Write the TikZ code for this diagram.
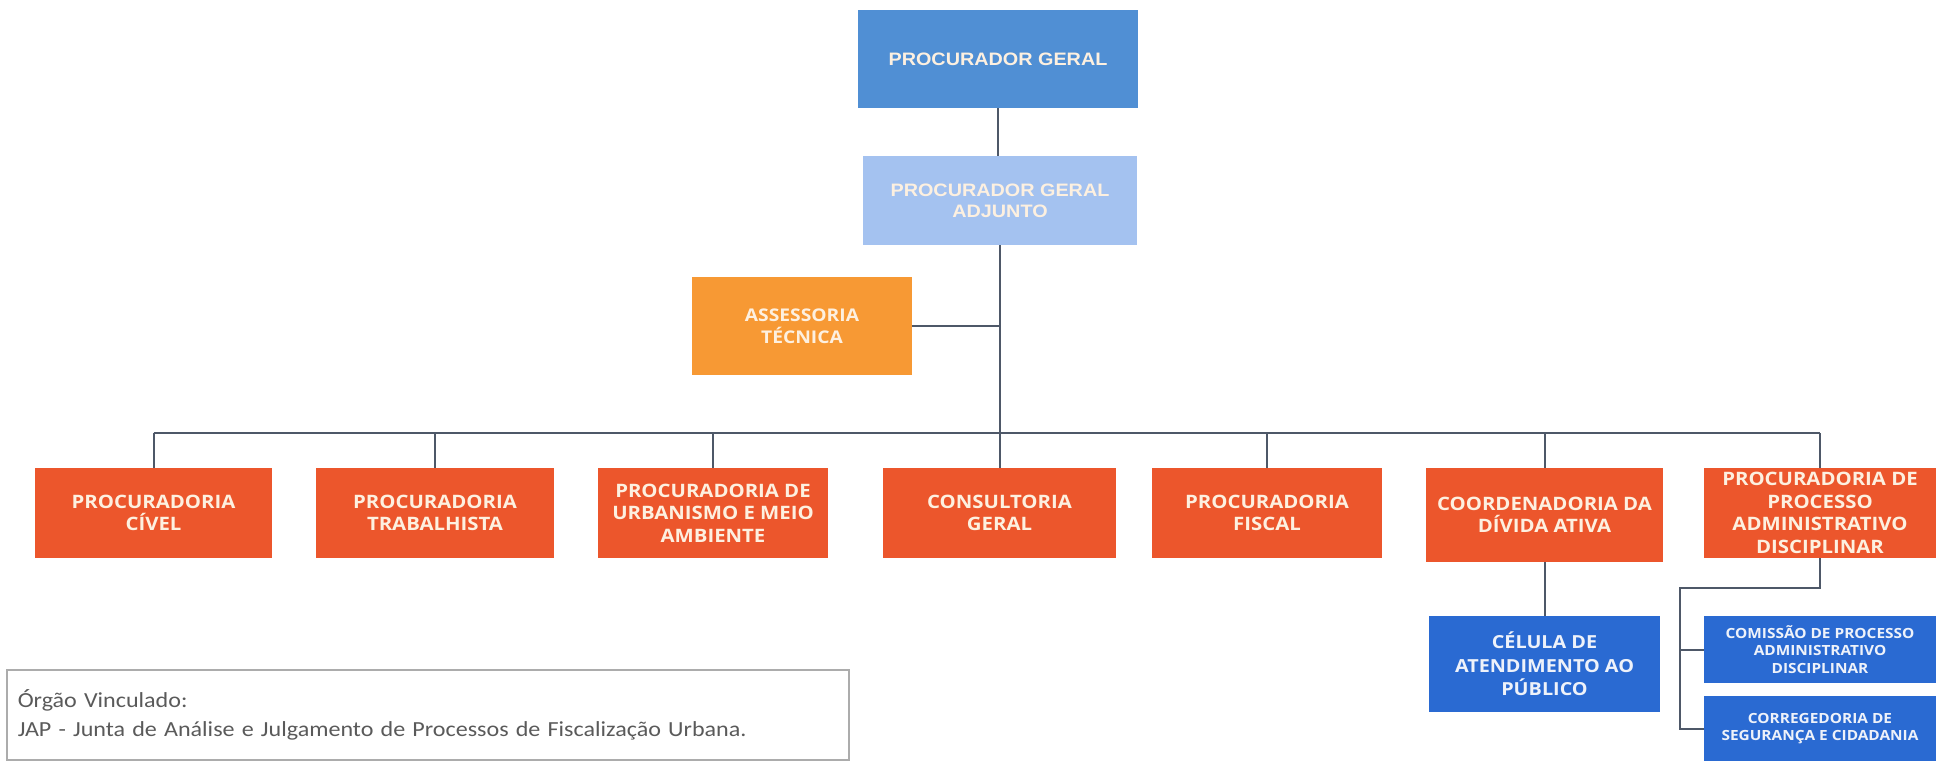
\documentclass[tikz,border=0pt]{standalone}
\usepackage{fontspec}
\setmainfont[FakeStretch=1.12]{Carlito}
\newfontfamily\hfont[FakeStretch=1.1]{Liberation Sans}
\newfontfamily\ofont[FakeStretch=1.1]{Open Sans}
\definecolor{pgblue}{RGB}{80,143,212}
\definecolor{pgablue}{RGB}{164,194,240}
\definecolor{assorange}{RGB}{247,153,52}
\definecolor{rowred}{RGB}{236,86,44}
\definecolor{subblue}{RGB}{42,106,210}
\definecolor{linec}{RGB}{78,88,104}
\definecolor{creamtext}{RGB}{253,240,224}
\definecolor{bluetext}{RGB}{238,242,250}
\definecolor{footgray}{RGB}{172,172,172}
\definecolor{foottext}{RGB}{90,90,90}
\tikzset{
  box/.style={inner sep=0pt, align=center},
  topbox/.style={box, font=\hfont\bfseries\fontsize{18}{21}\selectfont, text=creamtext},
  rowbox/.style={box, fill=rowred, font=\ofont\bfseries\fontsize{18.5}{22.5}\selectfont, text=creamtext, minimum height=90pt},
  subbox/.style={box, fill=subblue, text=bluetext},
  smallsub/.style={subbox, font=\ofont\bfseries\fontsize{14}{17.5}\selectfont, minimum width=232pt},
  conn/.style={draw=linec, line width=2pt},
}
\begin{document}
\begin{tikzpicture}[x=1pt,y=-1pt]
\useasboundingbox[fill=white] (0,0) rectangle (1955,761);

\node[topbox, fill=pgblue, minimum width=280pt, minimum height=98pt] (PG) at (998,59) {PROCURADOR GERAL};
\node[topbox, fill=pgablue, minimum width=274pt, minimum height=89pt] (PGA) at (1000,200.5) {PROCURADOR GERAL\\ADJUNTO};
\node[box, fill=assorange, text=creamtext, font=\ofont\bfseries\fontsize{17.5}{22}\selectfont, minimum width=220pt, minimum height=98pt] (ASS) at (802,326) {ASSESSORIA\\TÉCNICA};

\node[rowbox, minimum width=237pt] (civ) at (153.5,513) {PROCURADORIA\\CÍVEL};
\node[rowbox, minimum width=238pt] (tra) at (435,513) {PROCURADORIA\\TRABALHISTA};
\node[rowbox, minimum width=230pt] (urb) at (713,513) {PROCURADORIA DE\\URBANISMO E MEIO\\AMBIENTE};
\node[rowbox, minimum width=233pt] (con) at (999.5,513) {CONSULTORIA\\GERAL};
\node[rowbox, minimum width=230pt] (fis) at (1267,513) {PROCURADORIA\\FISCAL};
\node[rowbox, minimum width=237pt, minimum height=94pt] (coo) at (1544.5,515) {COORDENADORIA DA\\DÍVIDA ATIVA};
\node[rowbox, minimum width=232pt] (ppad) at (1820,513) {PROCURADORIA DE\\PROCESSO\\ADMINISTRATIVO\\DISCIPLINAR};

\node[subbox, font=\ofont\bfseries\fontsize{18}{23.5}\selectfont, minimum width=231pt, minimum height=96pt] (cel) at (1544.5,664) {CÉLULA DE\\ATENDIMENTO AO\\PÚBLICO};
\node[smallsub, minimum height=67pt] (com) at (1820,649.5) {COMISSÃO DE PROCESSO\\ADMINISTRATIVO\\DISCIPLINAR};
\node[smallsub, minimum height=65pt] (cor) at (1820,728.5) {CORREGEDORIA DE\\SEGURANÇA E CIDADANIA};

\coordinate (busL) at (153.5,433);
\coordinate (busR) at (1820,433);
\coordinate (subtop) at (1680,588);

\draw[conn] (PG.south) -- (PG.south |- PGA.north);
\draw[conn] (PGA.south) -- (PGA.south |- busL);
\draw[conn] (ASS.east) -- (ASS.east -| PGA.south);
\draw[conn] (busL) -- (busR);
\foreach \n in {civ,tra,urb,con,fis,coo,ppad}{
  \draw[conn] (\n.north) -- (\n.north |- busL);
}
\draw[conn] (coo.south) -- (cel.north);
\draw[conn] (ppad.south) -- (ppad.south |- subtop) -- (subtop) -- (subtop |- cor.west) -- (cor.west);
\draw[conn] (subtop |- com.west) -- (com.west);

\node[draw=footgray, line width=2.5pt, anchor=north west, minimum width=841pt, minimum height=90pt,
      text width=820pt, align=left, inner xsep=11pt, text=foottext,
      font=\fontsize{21.5}{28.5}\selectfont] (foot) at (5.5,668.5)
  {Órgão Vinculado:\\JAP - Junta de Análise e Julgamento de Processos de Fiscalização Urbana.};
\end{tikzpicture}
\end{document}
